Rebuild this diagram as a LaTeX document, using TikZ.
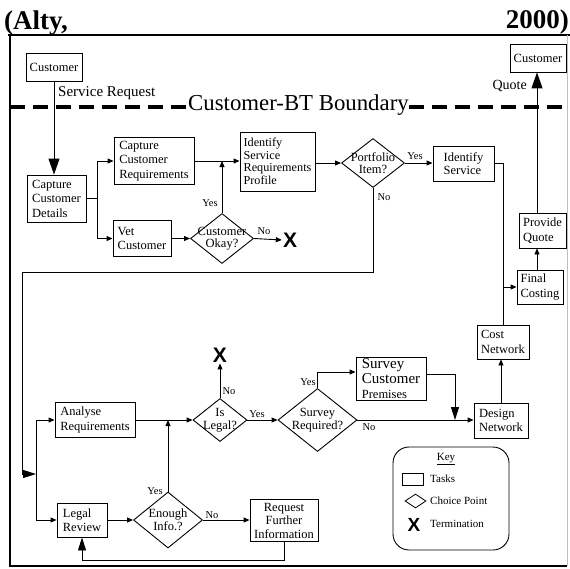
\documentclass[tikz,border=0pt]{standalone}
\usepackage{fontspec}
\setmainfont{Liberation Serif}
\newfontfamily\xsans{Liberation Sans}
\usetikzlibrary{arrows.meta,shapes.geometric}
\newcommand\fsz[2]{\fontsize{#1}{#2}\selectfont}
\tikzset{
  box/.style={draw, line width=0.9pt, rectangle, align=left, inner sep=1pt, font=\fsz{12.5}{14.5}},
  dia/.style={draw, line width=0.9pt, diamond, inner sep=0pt},
  dtxt/.style={align=center, inner sep=0pt, font=\fsz{12.5}{12.5}},
  lbl/.style={inner sep=0pt, font=\fsz{10.5}{11}},
  keytxt/.style={inner sep=0pt, font=\fsz{11}{12}},
  arr/.style={line width=0.9pt, -{Triangle[length=6pt,width=5pt]}},
  bigarr/.style={line width=1pt, -{Triangle[length=16pt,width=11pt]}},
  midarr/.style={line width=0.9pt, -{Triangle[length=13pt,width=8pt]}},
  link/.style={line width=0.9pt},
  bound/.style={line width=3.5pt, dash pattern=on 15pt off 8pt},
  xmark/.style={inner sep=0pt, font=\xsans\bfseries\fsz{21}{21}},
  title/.style={inner sep=0pt, font=\bfseries\fsz{27}{30}},
}
\begin{document}
\begin{tikzpicture}[x=1pt,y=-1pt]
\useasboundingbox (0,0) rectangle (570,568);
% title
\node[title, anchor=base west] (t1) at (4,29) {(Alty,};
\node[title, anchor=base east] (t2) at (569,28) {2000)};
% frame
\draw[line width=1.6pt] (8,35) -- (570,35);
\draw[line width=1.6pt] (10,35) -- (10,566) -- (567,566);
\draw[line width=0.6pt, black!25] (567,35) -- (567,566);
% boundary
\node[inner sep=0pt, anchor=base west, font=\fsz{22.8}{24}] (bd) at (188,110) {Customer-BT Boundary};
\coordinate (b1) at (10,107);
\coordinate (b4) at (570,107);
\draw[bound] (b1) -- (bd.west |- b1);
\draw[bound] (bd.east |- b1) -- (b4);
% boxes
\node[box, align=center, minimum width=56pt, minimum height=28pt] (c1) at (54,67) {Customer};
\node[box, minimum width=59pt, minimum height=47pt] (ccd) at (56.5,198.5) {Capture\\Customer\\Details};
\node[box, minimum width=80pt, minimum height=47pt] (ccr) at (154,161) {Capture\\Customer\\Requirements};
\node[box, minimum width=58pt, minimum height=36pt] (vet) at (142,238.5) {Vet\\Customer};
\node[box, minimum width=75pt, minimum height=59pt, font=\fsz{12.2}{12.5}] (isrp) at (277.5,161.5) {Identify\\Service\\Requirements\\Profile};
\node[box, minimum width=61pt, minimum height=35pt, font=\fsz{12.5}{13}] (is) at (463.5,163.5) {Identify\\Service};
\node[box, minimum width=52pt, minimum height=34pt] (cn) at (503,342) {Cost\\Network};
\node[box, minimum width=46pt, minimum height=34pt] (fc) at (540,287) {Final\\Costing};
\node[box, minimum width=47pt, minimum height=35pt] (pq) at (542.5,230.5) {Provide\\Quote};
\node[box, align=center, minimum width=56pt, minimum height=28pt] (c2) at (538,58) {Customer};
\node[box, minimum width=54pt, minimum height=35pt] (dn) at (501,420.5) {Design\\Network};
\node[box, minimum width=70pt, minimum height=43pt, font=\fsz{15}{15}] (scp) at (391,378.5) {Survey\\Customer\\\fsz{12.5}{13}Premises};
\node[box, minimum width=80pt, minimum height=35pt] (ar) at (95,420) {Analyse\\Requirements};
\node[box, minimum width=50pt, minimum height=34pt] (lr) at (82,520) {Legal\\Review};
\node[box, align=center, minimum width=68pt, minimum height=42pt, font=\fsz{12.5}{13.5}] (rfi) at (284,520.5) {Request\\Further\\Information};
% diamonds
\node[dia, minimum width=63pt, minimum height=49pt] (port) at (373,163) {};
\node[dtxt] (portt) at (port.center) {Portfolio\\Item?};
\node[dia, minimum width=63pt, minimum height=50pt] (cok) at (222,238.5) {};
\node[dtxt] (cokt) at (cok.center) {Customer\\Okay?};
\node[dia, minimum width=54pt, minimum height=43pt] (il) at (220,420) {};
\node[dtxt] (ilt) at (il.center) {Is\\Legal?};
\node[dia, minimum width=79pt, minimum height=63pt] (sr) at (317.5,420) {};
\node[dtxt] (srt) at (sr.center) {Survey\\Required?};
\node[dia, minimum width=69pt, minimum height=56pt] (en) at (168,520) {};
\node[dtxt, font=\fsz{12.5}{13}] (ent) at (en.center) {Enough\\Info.?};
% terminations
\node[xmark] (x1) at (290,240) {X};
\node[xmark] (x2) at (220,355) {X};
% connectors
\draw[bigarr] (c1.south) -- (c1.south |- ccd.north);
\coordinate (s1) at (97,198.5);
\draw[link] (ccd.east) -- (s1);
\draw[arr] (s1) |- (ccr.west);
\draw[arr] (s1) |- (vet.west);
\draw[arr] (ccr.east) -- (isrp.west |- ccr.east);
\draw[arr] (cok.north) -- (cok.north |- ccr.east);
\draw[arr] (vet.east) -- (cok.west);
\draw[arr] (cok.east) -- ([xshift=-1pt]x1.west);
\draw[arr] (isrp.east |- port.west) -- (port.west);
\draw[arr] (port.east) -- (is.west |- port.east);
\coordinate (n1) at (373,272);
\coordinate (n2) at (22,272);
\coordinate (n3) at (22,474);
\coordinate (s2) at (36,474);
\draw[link] (port.south) -- (n1) -- (n2) -- (n3);
\draw[midarr] (n3) -- (s2);
\draw[arr] (s2) |- (ar.west);
\draw[arr] (s2) |- (lr.west);
\draw[arr] (ar.east) -- (il.west);
\draw[arr] (lr.east) -- (en.west);
\draw[arr] (en.north) -- (en.north |- ar.east);
\draw[arr] (en.east) -- (rfi.west |- en.east);
\coordinate (l1) at (284,560);
\draw[midarr] (rfi.south) -- (l1) -| (lr.south);
\draw[arr] (il.north) -- ([yshift=-1pt]x2.south);
\draw[arr] (il.east) -- (sr.west);
\coordinate (y1) at (317.5,372);
\draw[arr] (sr.north) -- (y1) -- (y1 -| scp.west);
\coordinate (p1) at (455,374);
\coordinate (p2) at (455,420);
\draw[link] (scp.east |- p1) -- (p1);
\draw[midarr] (p1) -- (p2);
\draw[arr] (sr.east) -- (dn.west |- sr.east);
\draw[arr] (dn.north) -- (dn.north |- cn.south);
\coordinate (i1) at (503,163.5);
\draw[link] (is.east) -- (i1) -- (cn.north);
\coordinate (f1) at (503,287);
\draw[arr] (f1) -- (fc.west);
\coordinate (q1) at (537,0);
\draw[arr] (fc.north -| q1) -- (pq.south -| q1);
\draw[bigarr] (pq.north -| q1) -- (c2.south -| q1);
% labels
\node[lbl, font=\fsz{15}{16}, anchor=west] (lsr) at (58,93) {Service Request};
\node[lbl, font=\fsz{14}{15}, anchor=east] (lq) at (527,86) {Quote};
\node[lbl] (ly1) at (415,156) {Yes};
\node[lbl] (ln1) at (384,197) {No};
\node[lbl] (ly2) at (210,203) {Yes};
\node[lbl] (ln2) at (264,231) {No};
\node[lbl] (ln3) at (229,391) {No};
\node[lbl] (ly3) at (257,414) {Yes};
\node[lbl] (ly4) at (308,382) {Yes};
\node[lbl] (ln4) at (369,427) {No};
\node[lbl] (ly5) at (155,491) {Yes};
\node[lbl] (ln5) at (212,515) {No};
% key
\node[draw, line width=0.9pt, rounded corners=16pt, minimum width=116pt, minimum height=103pt] (key) at (451,498.5) {};
\node[keytxt] (keyt) at (446,459) {\underline{Key}};
\node[draw, line width=0.8pt, minimum width=21pt, minimum height=12pt, inner sep=0pt] (kbox) at (412.5,479) {};
\node[dia, line width=0.8pt, minimum width=21pt, minimum height=14pt] (kdia) at (415.5,501) {};
\node[xmark, font=\xsans\bfseries\fsz{19}{19}] (kx) at (414,525) {X};
\node[keytxt, anchor=west] (kt1) at (430,479) {Tasks};
\node[keytxt, anchor=west] (kt2) at (430,501) {Choice Point};
\node[keytxt, anchor=west] (kt3) at (430,524) {Termination};
\end{tikzpicture}
\end{document}
